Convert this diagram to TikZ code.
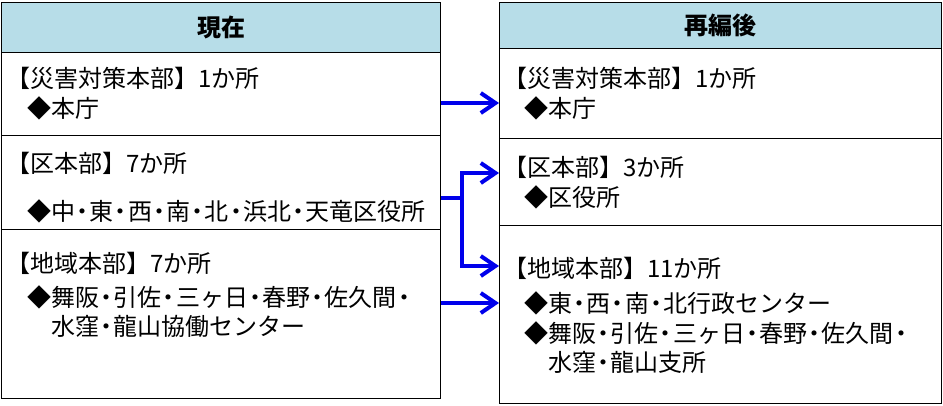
\documentclass[tikz,border=0pt]{standalone}
\usepackage{fontspec}
\newfontfamily\jpfont{Noto Sans CJK JP}
\newcommand\nakaguro{\kern-0.2em・\kern-0.2em}
\usetikzlibrary{arrows.meta}
\definecolor{headblue}{RGB}{183,221,232}
\definecolor{arrowblue}{RGB}{0,0,235}

\begin{document}
\begin{tikzpicture}[x=0.75pt,y=-0.75pt,inner sep=0pt,
  font=\jpfont\fontsize{18}{21}\selectfont,
  lcell/.style={draw,line width=1.1pt,anchor=north west,minimum width=329.25pt},
  rcell/.style={draw,line width=1.1pt,anchor=north west,minimum width=331.5pt},
  txt/.style={anchor=west},
  flow/.style={draw=arrowblue,line width=3pt,-{Straight Barb[length=11pt,width=15pt,line width=3pt]}}]
\useasboundingbox (0,0) rectangle (943,405);
% left table
\node[lcell,fill=headblue,minimum height=37.5pt] (LH) at (1,2) {};
\node[lcell,minimum height=62.25pt] (L1) at (1,52) {};
\node[lcell,minimum height=70.5pt] (L2) at (1,135) {};
\node[lcell,minimum height=126.75pt] (L3) at (1,229) {};
\node[font=\jpfont\fontsize{18}{21}\selectfont\bfseries] (lhead) at (LH) {現在};
\node[txt] (l1a) at (6,78) {【災害対策本部】1か所};
\node[txt] (l1b) at (27,108) {◆本庁};
\node[txt] (l2a) at (6,163) {【区本部】7か所};
\node[txt] (l2b) at (27,211) {◆中\nakaguro 東\nakaguro 西\nakaguro 南\nakaguro 北\nakaguro 浜北\nakaguro 天竜区役所};
\node[txt] (l3a) at (6,263) {【地域本部】7か所};
\node[txt] (l3b) at (27,297) {◆舞阪\nakaguro 引佐\nakaguro 三ヶ日\nakaguro 春野\nakaguro 佐久間\nakaguro};
\node[txt] (l3c) at (51,326) {水窪\nakaguro 龍山協働センター};
% right table
\node[rcell,fill=headblue,minimum height=34.5pt] (RH) at (499,2) {};
\node[rcell,minimum height=67.5pt] (R1) at (499,48) {};
\node[rcell,minimum height=65.25pt] (R2) at (499,138) {};
\node[rcell,minimum height=133.5pt] (R3) at (499,225) {};
\node[font=\jpfont\fontsize{18}{21}\selectfont\bfseries] (rhead) at (RH) {再編後};
\node[txt] (r1a) at (503,78) {【災害対策本部】1か所};
\node[txt] (r1b) at (524,108) {◆本庁};
\node[txt] (r2a) at (503,167) {【区本部】3か所};
\node[txt] (r2b) at (524,197) {◆区役所};
\node[txt] (r3a) at (503,268) {【地域本部】11か所};
\node[txt] (r3b) at (524,303) {◆東\nakaguro 西\nakaguro 南\nakaguro 北行政センター};
\node[txt] (r3c) at (524,333) {◆舞阪\nakaguro 引佐\nakaguro 三ヶ日\nakaguro 春野\nakaguro 佐久間\nakaguro};
\node[txt] (r3d) at (548,362) {水窪\nakaguro 龍山支所};
% arrows
\coordinate (a1) at (0,103);
\coordinate (fork) at (462,198);
\coordinate (a2) at (0,173);
\coordinate (a3) at (0,266);
\coordinate (a4) at (0,303);
\draw[flow] (L1.east |- a1) -- (R1.west |- a1);
\draw[arrowblue,line width=3pt] (L2.east |- fork) -- (fork);
\draw[flow] (fork) |- (R2.west |- a2);
\draw[flow] (fork) |- (R3.west |- a3);
\draw[flow] (L3.east |- a4) -- (R3.west |- a4);
\end{tikzpicture}
\end{document}
